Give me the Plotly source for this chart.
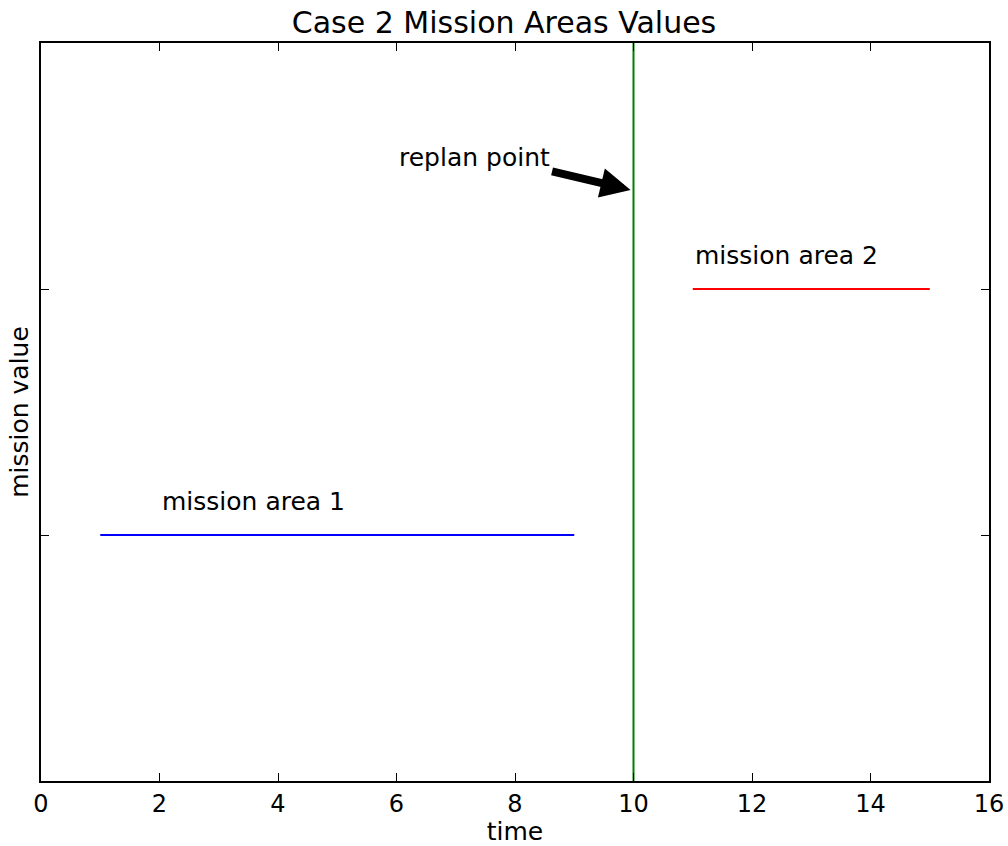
import plotly.graph_objects as go

area1_x = [1, 9]
area1_y = [1, 1]
area2_x = [11, 15]
area2_y = [2, 2]
replan_x = [10, 10]
replan_y = [0, 3]
x_ticks = [0, 2, 4, 6, 8, 10, 12, 14, 16]
y_ticks = [1, 2]

FONT = "DejaVu Sans"

fig = go.Figure()
fig.add_trace(go.Scatter(x=area1_x, y=area1_y, mode="lines", line=dict(color="#0000ff", width=2), showlegend=False))
fig.add_trace(go.Scatter(x=area2_x, y=area2_y, mode="lines", line=dict(color="#ff0000", width=2), showlegend=False))
fig.add_trace(go.Scatter(x=replan_x, y=replan_y, mode="lines", line=dict(color="#008000", width=2), showlegend=False))

fig.add_annotation(x=2, y=1.1, text="mission area 1", showarrow=False, xanchor="left", yanchor="bottom",
                   yshift=-8, font=dict(family=FONT, size=25, color="black"))
fig.add_annotation(x=11, y=2.1, text="mission area 2", showarrow=False, xanchor="left", yanchor="bottom",
                   yshift=-8, font=dict(family=FONT, size=25, color="black"))
fig.add_annotation(x=6, y=2.5, text="replan point", showarrow=False, xanchor="left", yanchor="bottom",
                   yshift=-8, font=dict(family=FONT, size=25, color="black"))
fig.add_annotation(x=10, y=2.4, ax=8.6, ay=2.48, axref="x", ayref="y", text="", showarrow=True,
                   arrowhead=2, arrowsize=0.75, arrowwidth=8, arrowcolor="black", standoff=3)

axis_common = dict(showline=True, linecolor="black", linewidth=1.5, mirror="ticks", ticks="inside",
                   ticklen=8, tickcolor="black", showgrid=False, zeroline=False, automargin=False)
fig.update_xaxes(range=[0, 16], tickvals=x_ticks, tickfont=dict(family=FONT, size=24, color="black"),
                 title=dict(text="time", font=dict(family=FONT, size=25, color="black"), standoff=1),
                 **axis_common)
fig.update_yaxes(range=[0, 3], tickvals=y_ticks, showticklabels=False,
                 title=dict(text="mission value", font=dict(family=FONT, size=25, color="black"), standoff=4),
                 **axis_common)

fig.update_layout(
    width=1008, height=846,
    margin=dict(l=41, r=19, t=43, b=65),
    paper_bgcolor="white", plot_bgcolor="white",
    title=dict(text="Case 2 Mission Areas Values", x=0.5, xanchor="center", y=0.973, yanchor="middle",
               font=dict(family=FONT, size=30, color="black")),
)

fig.write_html("out.html", config={"displayModeBar": False},
               post_script="document.body.style.margin='0';document.body.style.padding='0';document.body.style.overflow='hidden';")
